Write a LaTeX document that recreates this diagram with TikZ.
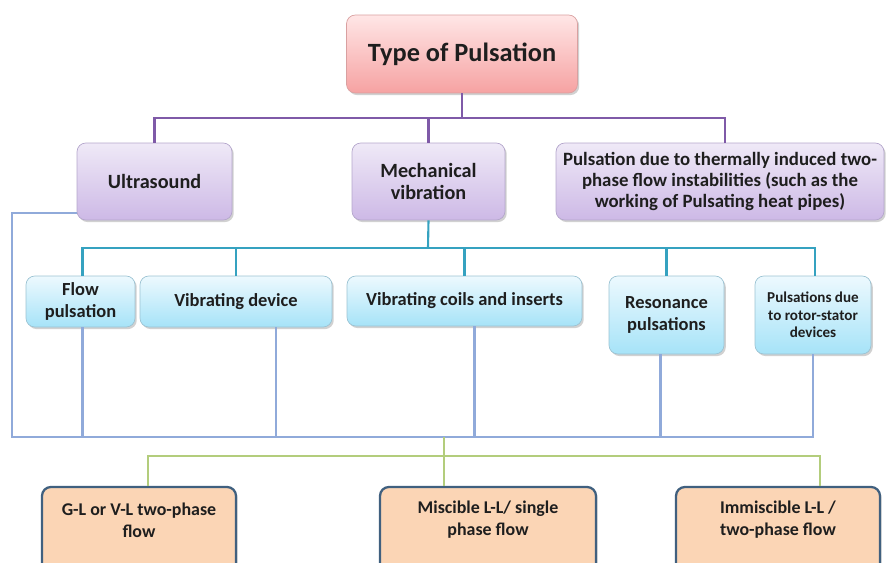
\documentclass[tikz,border=0pt]{standalone}
\usepackage{fontspec}
\setmainfont{Carlito}
\usetikzlibrary{positioning,shadows,calc}
\definecolor{pinkTop}{HTML}{FFE6E6}
\definecolor{pinkBot}{HTML}{F6A2A2}
\definecolor{pinkEdge}{HTML}{D9A0A0}
\definecolor{purpTop}{HTML}{EFE9F7}
\definecolor{purpBot}{HTML}{CDB9E6}
\definecolor{purpEdge}{HTML}{B4A6CC}
\definecolor{cyanTop}{HTML}{EDF9FE}
\definecolor{cyanBot}{HTML}{A6E3F8}
\definecolor{cyanEdge}{HTML}{9CC3D3}
\definecolor{orangeFill}{HTML}{FBD5B5}
\definecolor{orangeEdge}{HTML}{40607F}
\definecolor{lnPurple}{HTML}{7F5AA8}
\definecolor{lnCyan}{HTML}{35A2C0}
\definecolor{lnBlue}{HTML}{90AADA}
\definecolor{lnGreen}{HTML}{B3CD7C}
\definecolor{textDark}{HTML}{1E1E1E}
\begin{document}
\begin{tikzpicture}[x=0.02cm,y=-0.02cm]
    \tikzset{
        box/.style={rectangle,rounded corners=5pt,inner sep=0pt,align=center,text=textDark,
            font=\bfseries\fontsize{11.5}{12.5}\selectfont,
            drop shadow={shadow xshift=1pt,shadow yshift=-1.2pt,opacity=0.3,fill=black!60}},
        pinkbox/.style={box,draw=pinkEdge,top color=pinkTop,bottom color=pinkBot,
            font=\bfseries\fontsize{15}{17}\selectfont},
        purplebox/.style={box,draw=purpEdge,top color=purpTop,bottom color=purpBot},
        cyanbox/.style={box,draw=cyanEdge,top color=cyanTop,bottom color=cyanBot,
            font=\bfseries\fontsize{10.5}{12.5}\selectfont},
        orangebox/.style={box,draw=orangeEdge,line width=1.3pt,fill=orangeFill},
        boxtext/.style={align=center,text=textDark,font=\bfseries\fontsize{10.2}{12.5}\selectfont},
        purpleline/.style={draw=lnPurple,line width=1.2pt},
        cyanline/.style={draw=lnCyan,line width=1.2pt},
        blueline/.style={draw=lnBlue,line width=1.2pt},
        greenline/.style={draw=lnGreen,line width=1.2pt}}
    \useasboundingbox (0,0) rectangle (886,562);
    \clip (0,0) rectangle (886,562);

    % first level
    \node[pinkbox,minimum width=4.62cm,minimum height=1.56cm] (top) at (462,54) {Type of Pulsation};
    \node[purplebox,minimum width=3.10cm,minimum height=1.54cm] (ultra) at (154.5,181.5) {Ultrasound};
    \node[purplebox,minimum width=3.06cm,minimum height=1.54cm] (mech) at (428.5,181.5) {Mechanical\\vibration};
    \node[purplebox,minimum width=6.56cm,minimum height=1.54cm,font=\bfseries\fontsize{10.7}{12}\selectfont] (therm) at (720,181.5)
        {Pulsation due to thermally induced two-\\phase flow instabilities (such as the\\working of Pulsating heat pipes)};

    % mechanical vibration
    \node[cyanbox,minimum width=2.18cm,minimum height=1.02cm] (flow) at (80.5,301.5) {Flow\\pulsation};
    \node[cyanbox,minimum width=3.84cm,minimum height=1.02cm] (dev) at (236,301.5) {Vibrating device};
    \node[cyanbox,minimum width=4.70cm,minimum height=1.00cm] (coils) at (464.5,301) {Vibrating coils and inserts};
    \node[cyanbox,minimum width=2.30cm,minimum height=1.56cm] (reson) at (666.5,315) {Resonance\\pulsations};
    \node[cyanbox,minimum width=2.32cm,minimum height=1.56cm,font=\bfseries\fontsize{8.6}{10}\selectfont] (rotor) at (813,315)
        {Pulsations due\\to rotor-stator\\devices};

    % flow types
    \node[orangebox,minimum width=3.88cm,minimum height=1.86cm] (gl) at (139,533.5) {};
    \node[orangebox,minimum width=4.32cm,minimum height=1.86cm] (mis) at (488,533.5) {};
    \node[orangebox,minimum width=4.08cm,minimum height=1.86cm] (imm) at (778,533.5) {};
    \node[boxtext] (gltext) at ($(gl.north)+(0,34)$) {G-L or V-L two-phase\\flow};
    \node[boxtext] (mistext) at ($(mis.north)+(0,34)$) {Miscible L-L/ single\\phase flow};
    \node[boxtext] (immtext) at ($(imm.north)+(0,34)$) {Immiscible L-L /\\two-phase flow};

    % connectors
    \coordinate (busA) at (462,118);
    \coordinate (busB) at (428,248);
    \coordinate (cornerC) at (12,437);
    \coordinate (busC) at (444,437);
    \coordinate (busD) at (444,456);
    \draw[purpleline] (top.south) -- (busA);
    \draw[purpleline] (ultra.north) |- (busA) -| ($(therm.north)+(5,0)$);
    \draw[purpleline] (mech.north) -- (mech.north |- busA);
    \draw[cyanline] (mech.south) -- (busB);
    \draw[cyanline] ($(flow.north)+(2,0)$) |- (busB) -| ($(rotor.north)+(2,0)$);
    \foreach \n in {dev,coils,reson}
        \draw[cyanline] (\n.north) -- (\n.north |- busB);
    \draw[blueline] ($(ultra.south west)+(0,-7)$) -| (cornerC) -| (rotor.south);
    \foreach \n/\dx in {flow/2,dev/40,coils/10,reson/-6}
        \draw[blueline] ($(\n.south)+(\dx,0)$) coordinate (d) -- (d |- busC);
    \draw[greenline] (busC) -- (busD);
    \draw[greenline] ($(gl.north)+(9,0)$) |- (busD) -| ($(imm.north)+(42,0)$);
    \draw[greenline] (busD) -- (busD |- mis.north);
\end{tikzpicture}
\end{document}
